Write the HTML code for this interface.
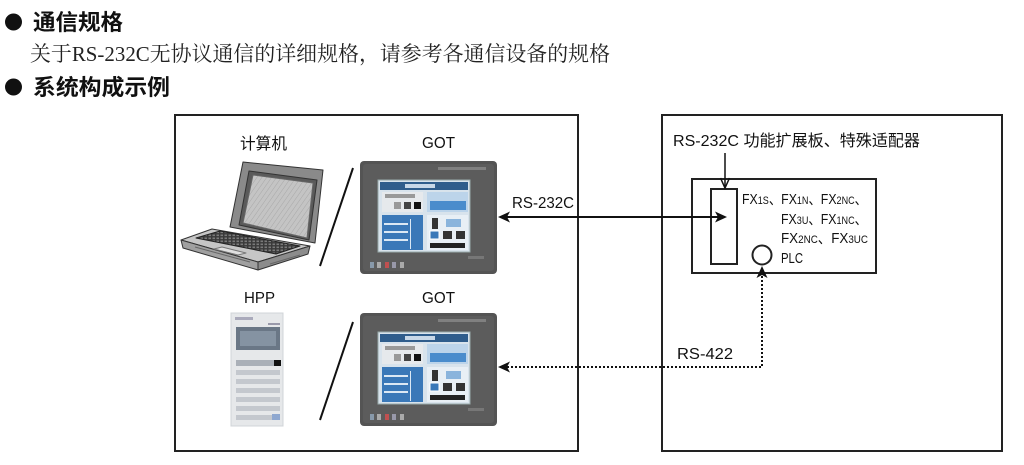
<!DOCTYPE html>
<html><head><meta charset="utf-8"><style>
html,body{margin:0;padding:0;background:#fff;}
svg{display:block;}
.s{font-family:"Liberation Sans","Noto Sans CJK SC",sans-serif;fill:#111;}
.h{font-family:"Liberation Sans","Noto Sans CJK SC",sans-serif;font-weight:bold;fill:#111;}
.m{font-family:"Liberation Serif","Noto Serif CJK SC",serif;fill:#222;}
</style></head><body>
<svg width="1024" height="465" viewBox="0 0 1024 465" xmlns="http://www.w3.org/2000/svg">
<defs>
  <pattern id="keys" width="4" height="3" patternUnits="userSpaceOnUse">
    <rect width="4" height="3" fill="#3a3a3a"/>
    <rect x="0.5" y="0.5" width="2.5" height="1.6" fill="#7a7a7a"/>
  </pattern>
  <pattern id="hatch" width="4" height="4" patternUnits="userSpaceOnUse" patternTransform="rotate(35)">
    <rect width="4" height="4" fill="#c4c4c4"/>
    <line x1="0" y1="0" x2="0" y2="4" stroke="#a8a8a8" stroke-width="1"/>
  </pattern>
</defs>
<rect width="1024" height="465" fill="#fff"/>
<!-- header -->
<circle cx="13.5" cy="22" r="8.5" fill="#111"/>
<text class="h" x="33" y="30" font-size="22" textLength="90" lengthAdjust="spacingAndGlyphs">通信规格</text>
<text class="m" x="30" y="61" font-size="21" textLength="580" lengthAdjust="spacingAndGlyphs">关于RS-232C无协议通信的详细规格，请参考各通信设备的规格</text>
<circle cx="13.5" cy="87" r="8.5" fill="#111"/>
<text class="h" x="33" y="95" font-size="22" textLength="137" lengthAdjust="spacingAndGlyphs">系统构成示例</text>

<!-- boxes -->
<rect x="175" y="115" width="403" height="336" fill="none" stroke="#222" stroke-width="2"/>
<rect x="662" y="115" width="340" height="336" fill="none" stroke="#222" stroke-width="2"/>
<rect x="692" y="179" width="184" height="94" fill="none" stroke="#222" stroke-width="2"/>
<rect x="711" y="189" width="26" height="75" fill="#fff" stroke="#222" stroke-width="2"/>
<circle cx="762" cy="255" r="9.5" fill="#fff" stroke="#222" stroke-width="2"/>

<!-- labels left -->
<text class="s" x="240" y="149" font-size="16" textLength="47" lengthAdjust="spacingAndGlyphs">计算机</text>
<text class="s" x="422" y="148" font-size="16" textLength="33" lengthAdjust="spacingAndGlyphs">GOT</text>
<text class="s" x="244" y="303" font-size="16" textLength="31" lengthAdjust="spacingAndGlyphs">HPP</text>
<text class="s" x="422" y="303" font-size="16" textLength="33" lengthAdjust="spacingAndGlyphs">GOT</text>

<!-- slashes -->
<line x1="353" y1="168" x2="320" y2="266" stroke="#111" stroke-width="2"/>
<line x1="353" y1="322" x2="320" y2="420" stroke="#111" stroke-width="2"/>

<!-- laptop -->
<g stroke="#333" stroke-width="1" stroke-linejoin="round">
  <!-- lid -->
  <polygon points="230,227 243,162 323,170 315,243" fill="#8a8a8a"/>
  <polygon points="249,171 317,180 309,240 239,225" fill="#5a5a5a"/>
  <polygon points="253,175 313,183 307,238 243,223" fill="url(#hatch)" stroke="#666"/>
  <!-- base -->
  <polygon points="181,240 212,229 310,246 258,262" fill="#c6c6c6"/>
  <polygon points="181,240 258,262 258,270 183,248" fill="#a0a0a0"/>
  <polygon points="258,262 310,246 308,254 258,270" fill="#8c8c8c"/>
  <polygon points="196,238 220,231 300,246 276,254" fill="url(#keys)" stroke="#222"/>
  <polygon points="214,249 238,255 246,253 222,247" fill="#e0e0e0" stroke="#777"/>
  <line x1="195" y1="247" x2="250" y2="262" stroke="#666"/>
  <line x1="270" y1="264" x2="300" y2="255" stroke="#666"/>
</g>

<!-- GOT panels -->
<g id="got1" transform="translate(360,161)">
  <rect x="0" y="0" width="137" height="113" rx="4" fill="#545454"/>
  <rect x="3" y="3" width="131" height="107" rx="3" fill="#5c5c5c"/>
  <rect x="78" y="6" width="48" height="3" fill="#808080"/>
  <rect x="18" y="19" width="92" height="72" fill="#d8e3ec" stroke="#9aa" stroke-width="1"/>
  <rect x="20" y="21" width="88" height="8" fill="#2f5d8c"/>
  <rect x="45" y="23" width="30" height="4" fill="#c8d8e8"/>
  <rect x="22" y="31" width="41" height="20" fill="#e6e9ec"/>
  <rect x="25" y="33" width="30" height="4" fill="#999"/>
  <rect x="34" y="41" width="7" height="7" fill="#999"/>
  <rect x="44" y="41" width="7" height="7" fill="#444"/>
  <rect x="54" y="41" width="7" height="7" fill="#111"/>
  <rect x="67" y="31" width="41" height="20" fill="#bcd4ea"/>
  <rect x="70" y="40" width="36" height="9" fill="#4a8ccc"/>
  <rect x="22" y="54" width="41" height="35" fill="#3a78b8"/>
  <rect x="24" y="62" width="24" height="2" fill="#dbe8f4"/>
  <rect x="24" y="70" width="24" height="2" fill="#dbe8f4"/>
  <rect x="24" y="78" width="24" height="2" fill="#dbe8f4"/>
  <rect x="50" y="58" width="1" height="30" fill="#dbe8f4"/>
  <rect x="67" y="54" width="41" height="35" fill="#e8eff5"/>
  <rect x="72" y="57" width="6" height="11" fill="#333"/>
  <rect x="86" y="58" width="15" height="8" fill="#8ab4dc"/>
  <rect x="70" y="70" width="9" height="8" fill="#3a78b8" stroke="#fff" stroke-width="1"/>
  <rect x="83" y="70" width="9" height="8" fill="#333"/>
  <rect x="96" y="70" width="9" height="8" fill="#333"/>
  <rect x="70" y="82" width="35" height="5" fill="#222"/>
  <rect x="10" y="101" width="4" height="6" fill="#8899aa"/>
  <rect x="17" y="101" width="4" height="6" fill="#aaa"/>
  <rect x="25" y="101" width="4" height="6" fill="#c05050"/>
  <rect x="32" y="101" width="4" height="6" fill="#99a"/>
  <rect x="40" y="101" width="4" height="6" fill="#aaa"/>
  <rect x="108" y="95" width="16" height="3" fill="#777"/>
</g>
<use href="#got1" transform="translate(0,152)"/>

<!-- HPP -->
<g>
  <rect x="231" y="313" width="52" height="113" fill="#e6e8ea" stroke="#d0d4d8" stroke-width="1"/>
  <rect x="235" y="317" width="18" height="3" fill="#aab"/>
  <rect x="268" y="323" width="12" height="2" fill="#99a"/>
  <rect x="236" y="327" width="44" height="23" fill="#6a7786"/>
  <rect x="240" y="331" width="36" height="15" fill="#8593a2"/>
  <rect x="236" y="360" width="44" height="6" fill="#aab0b8"/>
  <rect x="274" y="360" width="7" height="6" fill="#111"/>
  <g fill="#c4c8ce">
    <rect x="236" y="370" width="44" height="5"/>
    <rect x="236" y="379" width="44" height="5"/>
    <rect x="236" y="388" width="44" height="5"/>
    <rect x="236" y="397" width="44" height="5"/>
    <rect x="236" y="406" width="44" height="5"/>
    <rect x="236" y="415" width="44" height="5"/>
  </g>
  <rect x="272" y="414" width="8" height="6" fill="#8fa8d0"/>
</g>

<!-- RS-232C connector -->
<line x1="503" y1="217" x2="722" y2="217" stroke="#111" stroke-width="2"/>
<polygon points="498,217 510,211.5 507,217 510,222.5" fill="#111"/>
<polygon points="727,217 715,211.5 718,217 715,222.5" fill="#111"/>
<text class="s" x="512" y="208" font-size="16" textLength="62" lengthAdjust="spacingAndGlyphs">RS-232C</text>

<!-- down open arrow -->
<line x1="725" y1="153" x2="725" y2="188" stroke="#111" stroke-width="1.5"/>
<polyline points="720.5,178 725,188 729.5,178" fill="none" stroke="#111" stroke-width="1.5"/>
<text class="s" x="673" y="146" font-size="16" textLength="247" lengthAdjust="spacingAndGlyphs">RS-232C 功能扩展板、特殊适配器</text>

<!-- FX text -->
<text class="s" x="742" y="204" font-size="15" textLength="125" lengthAdjust="spacingAndGlyphs">FX<tspan font-size="11">1S</tspan>、FX<tspan font-size="11">1N</tspan>、FX<tspan font-size="11">2NC</tspan>、</text>
<text class="s" x="781" y="224" font-size="15" textLength="86" lengthAdjust="spacingAndGlyphs">FX<tspan font-size="11">3U</tspan>、FX<tspan font-size="11">1NC</tspan>、</text>
<text class="s" x="781" y="243" font-size="15" textLength="87" lengthAdjust="spacingAndGlyphs">FX<tspan font-size="11">2NC</tspan>、FX<tspan font-size="11">3UC</tspan></text>
<text class="s" x="781" y="263" font-size="15" textLength="22" lengthAdjust="spacingAndGlyphs">PLC</text>

<!-- RS-422 dotted -->
<polyline points="762,276 762,367 505,367" fill="none" stroke="#111" stroke-width="2" stroke-dasharray="2,2"/>
<polygon points="762,266 756.5,278 762,275 767.5,278" fill="#111"/>
<polygon points="498,367 510,361.5 507,367 510,372.5" fill="#111"/>
<text class="s" x="677" y="359" font-size="16" textLength="56" lengthAdjust="spacingAndGlyphs">RS-422</text>
</svg>
</body></html>
